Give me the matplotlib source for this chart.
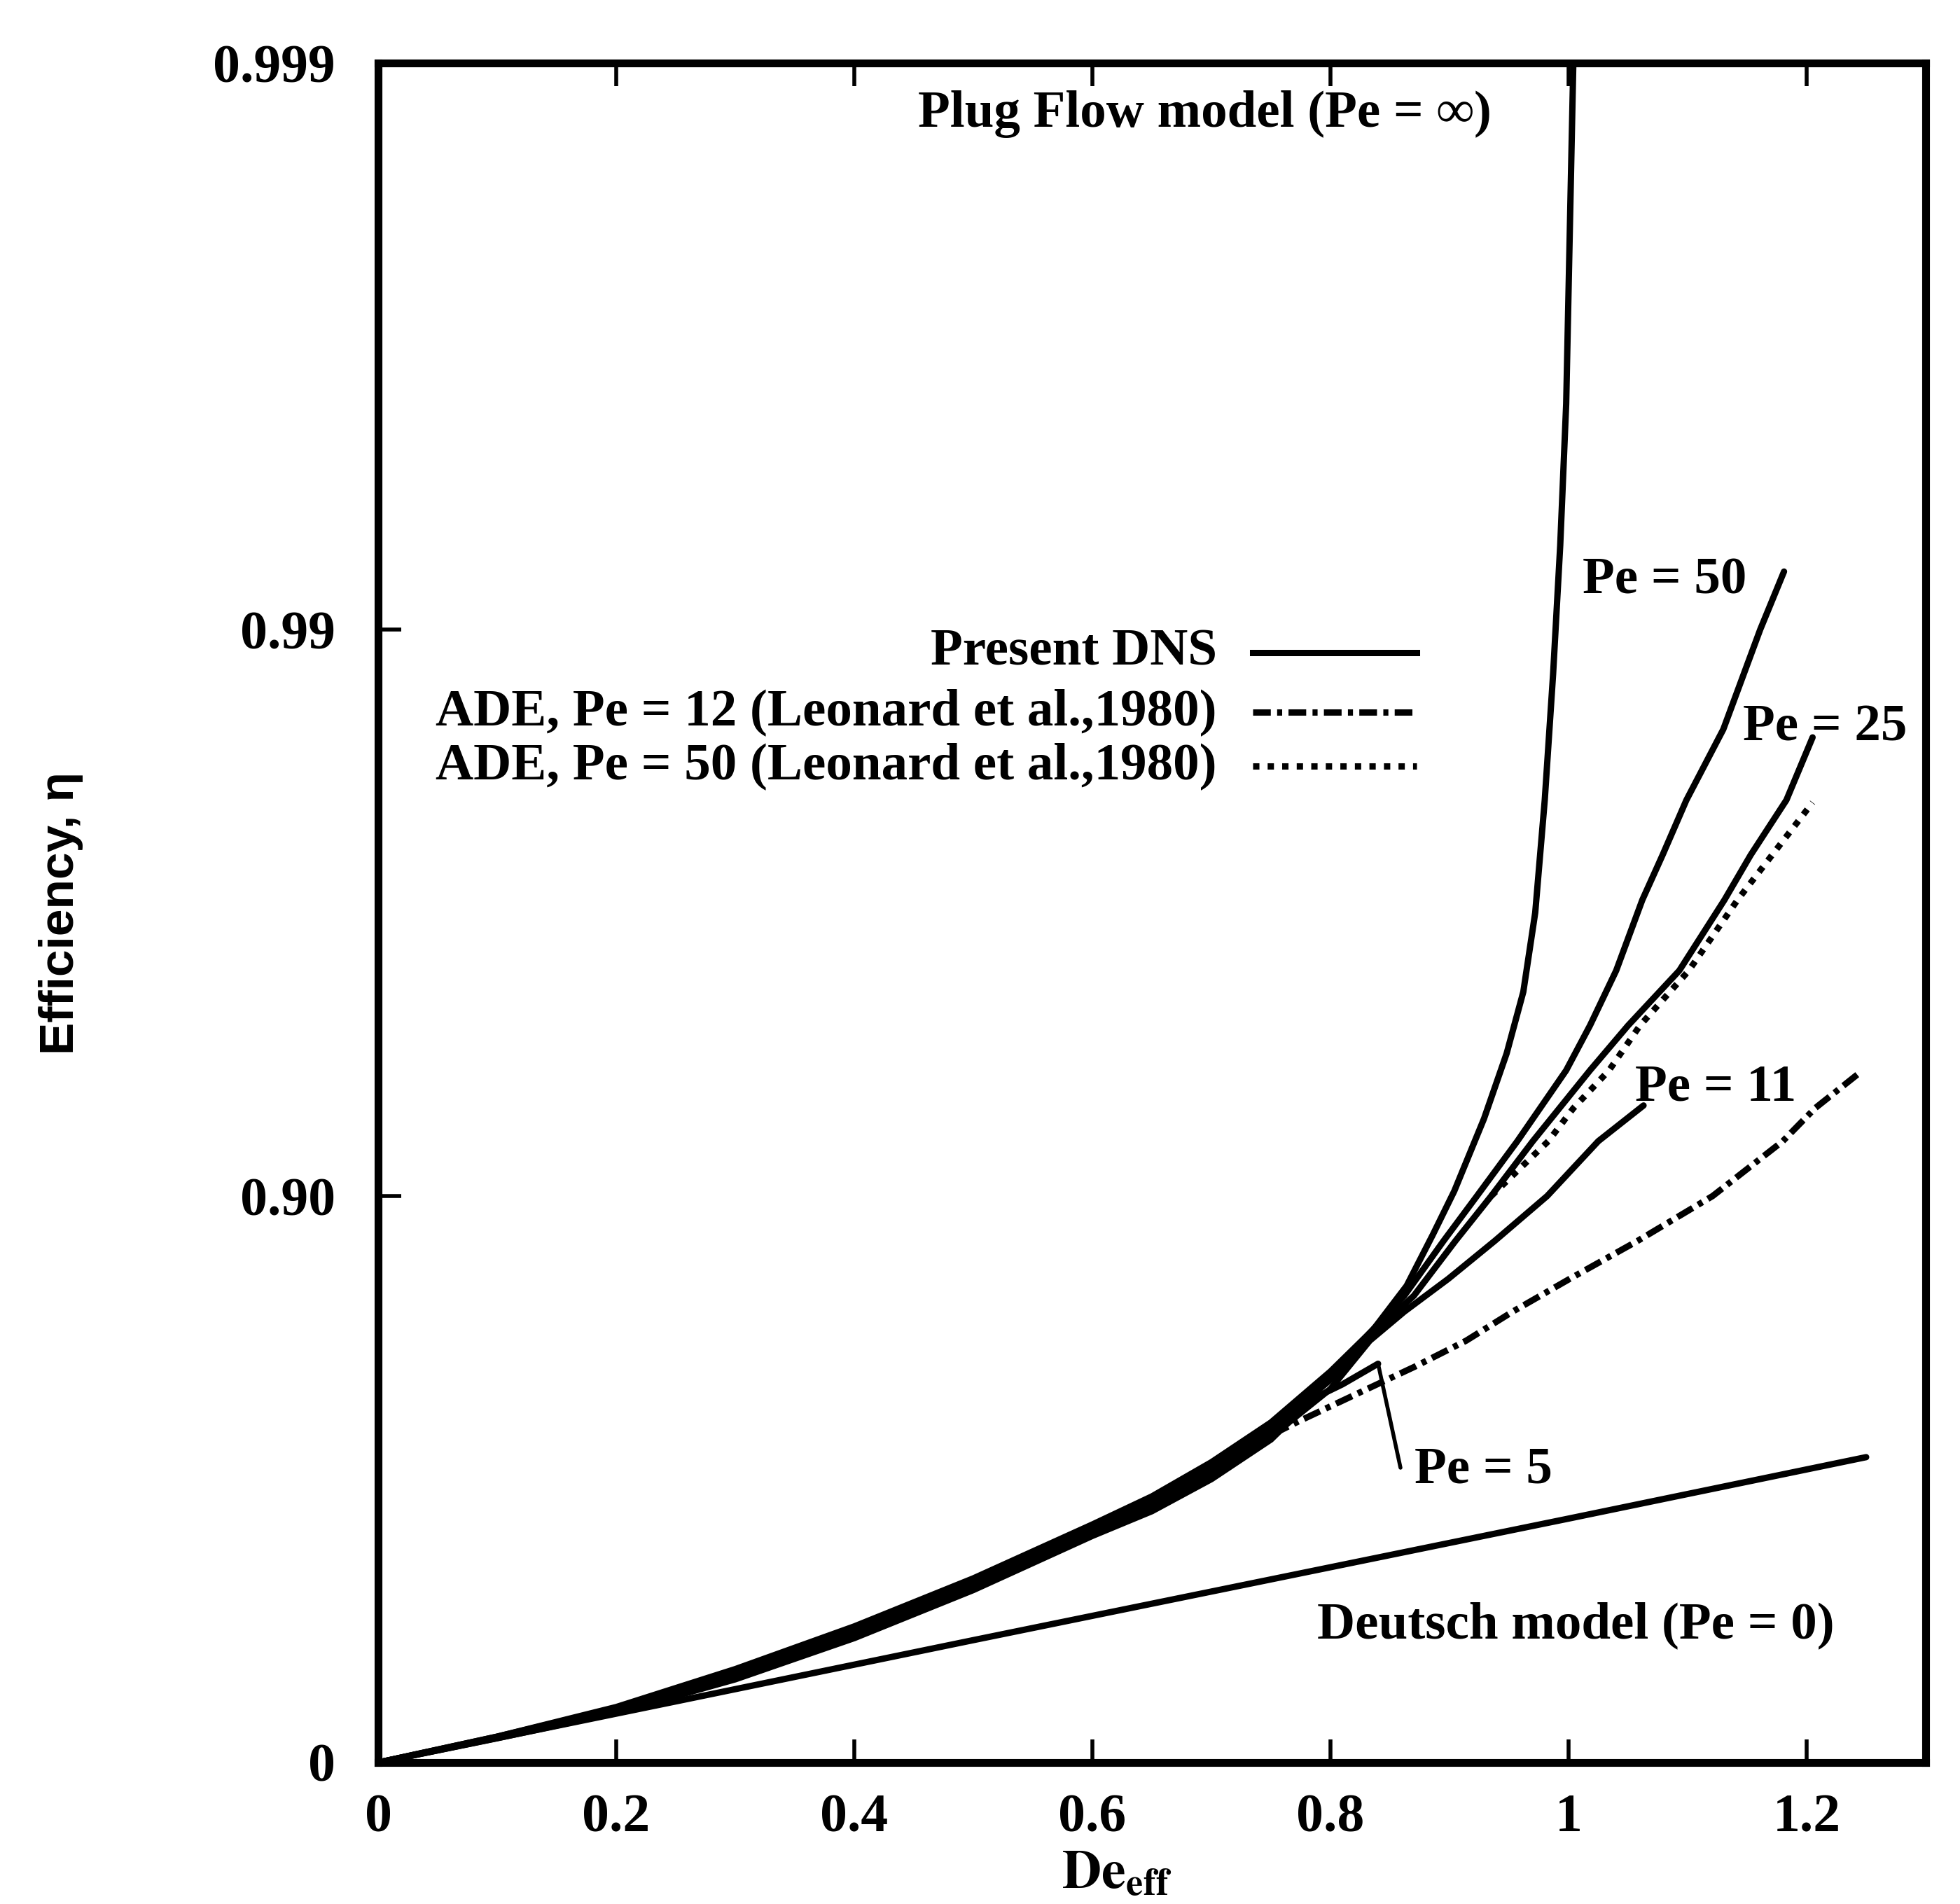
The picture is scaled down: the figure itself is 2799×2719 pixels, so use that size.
import numpy as np
import matplotlib
matplotlib.use("Agg")
import matplotlib.pyplot as plt
from matplotlib.lines import Line2D
from matplotlib.ticker import NullLocator

# ---------------- data ----------------
# Plug flow model (Pe = inf)
plug_de  = [0, 0.10, 0.20, 0.30, 0.40, 0.50, 0.60, 0.65, 0.70, 0.75, 0.80,
            0.836, 0.864, 0.886, 0.904, 0.929, 0.948, 0.962, 0.972, 0.980,
            0.987, 0.993, 0.998, 1.001, 1.004, 1.006]
plug_eta = [0, 0.10, 0.202, 0.316, 0.425, 0.527, 0.620, 0.661, 0.705, 0.749, 0.796,
            0.828, 0.856, 0.883, 0.902, 0.927, 0.944, 0.9564, 0.9684, 0.980,
            0.988, 0.9929, 0.996, 0.998, 0.999, 0.9995]

# Present DNS, Pe = 50
pe50_de  = [0, 0.10, 0.20, 0.30, 0.40, 0.50, 0.60, 0.65, 0.70, 0.75, 0.80,
            0.838, 0.862, 0.895, 0.923, 0.957, 0.998, 1.018, 1.040, 1.062, 1.079,
            1.099, 1.130, 1.161, 1.181]
pe50_eta = [0, 0.10, 0.198, 0.311, 0.419, 0.521, 0.615, 0.656, 0.701, 0.745, 0.793,
            0.83, 0.85, 0.88, 0.90, 0.92, 0.94, 0.95, 0.96, 0.97, 0.975,
            0.98, 0.985, 0.99, 0.9921]

# Present DNS, Pe = 25
pe25_de  = [0, 0.10, 0.20, 0.30, 0.40, 0.50, 0.60, 0.65, 0.70, 0.75, 0.80,
            0.842, 0.870, 0.905, 0.935, 0.970, 1.018, 1.050, 1.093, 1.131, 1.153,
            1.183, 1.205]
pe25_eta = [0, 0.098, 0.195, 0.305, 0.414, 0.517, 0.609, 0.650, 0.695, 0.741, 0.789,
            0.83, 0.85, 0.88, 0.90, 0.92, 0.94, 0.95, 0.96, 0.97, 0.975,
            0.98, 0.9845]

# Present DNS, Pe = 11
pe11_de  = [0, 0.10, 0.20, 0.30, 0.40, 0.50, 0.60, 0.65, 0.70, 0.75, 0.80,
            0.833, 0.862, 0.899, 0.938, 0.982, 1.025, 1.063]
pe11_eta = [0, 0.096, 0.189, 0.297, 0.407, 0.511, 0.605, 0.645, 0.690, 0.734, 0.781,
            0.82, 0.84, 0.86, 0.88, 0.90, 0.92, 0.9308]

# Present DNS, Pe = 5
pe5_de  = [0, 0.10, 0.20, 0.30, 0.40, 0.50, 0.60, 0.65, 0.70, 0.75, 0.785, 0.810, 0.840]
pe5_eta = [0, 0.094, 0.183, 0.287, 0.397, 0.504, 0.602, 0.640, 0.684, 0.731, 0.772, 0.785, 0.8023]

# ADE, Pe = 12 (Leonard et al., 1980)
ade12_de  = [0.700, 0.726, 0.773, 0.829, 0.871, 0.914, 0.953, 1.001, 1.058, 1.121, 1.180, 1.207, 1.244]
ade12_eta = [0.695, 0.72, 0.75, 0.78, 0.80, 0.82, 0.84, 0.86, 0.88, 0.90, 0.92, 0.93, 0.9393]

# ADE, Pe = 50 (Leonard et al., 1980)
ade50_de  = [0.935, 0.983, 1.004, 1.034, 1.060, 1.101, 1.142, 1.171, 1.205]
ade50_eta = [0.90, 0.92, 0.93, 0.94, 0.95, 0.96, 0.97, 0.975, 0.9798]

# Deutsch model (Pe = 0)
deutsch_de  = [0, 0.25, 0.50, 0.75, 1.00, 1.25]
deutsch_eta = [0, 0.220, 0.392, 0.525, 0.629, 0.711]

x_ticks = [0, 0.2, 0.4, 0.6, 0.8, 1.0, 1.2]
x_ticklabels = ["0", "0.2", "0.4", "0.6", "0.8", "1", "1.2"]
y_ticks = [0, 0.90, 0.99, 0.999]
y_ticklabels = ["0", "0.90", "0.99", "0.999"]

legend_labels = ["Present DNS",
                 "ADE, Pe = 12 (Leonard et al.,1980)",
                 "ADE, Pe = 50 (Leonard et al.,1980)"]

# ---------------- style ----------------
plt.rcParams["font.family"] = ["Liberation Serif", "DejaVu Serif"]
plt.rcParams["font.weight"] = "bold"
plt.rcParams["mathtext.fontset"] = "stix"

W, H = 2799, 2719
fig = plt.figure(figsize=(W / 100, H / 100), dpi=100)

L, R, T, B = 540, 2750, 90, 2517
ax = fig.add_axes([L / W, 1 - B / H, (R - L) / W, (B - T) / H])


def fwd(eta):
    eta = np.asarray(eta, dtype=float)
    return -np.log10(np.clip(1.0 - eta, 1e-9, None))


def inv(y):
    y = np.asarray(y, dtype=float)
    return 1.0 - 10.0 ** (-y)


ax.set_yscale("function", functions=(fwd, inv))
ax.set_xlim(0, 1.3)
ax.set_ylim(0, 0.999)

LW = 6.5
solid_kw = dict(color="black", lw=LW, solid_capstyle="round", solid_joinstyle="round")
dot_ls = (0, (1.0, 1.3))
dashdot_ls = (0, (2.8, 1.0, 0.8, 1.0))

ax.plot(plug_de, plug_eta, **solid_kw)
ax.plot(pe50_de, pe50_eta, **solid_kw)
ax.plot(pe25_de, pe25_eta, **solid_kw)
ax.plot(pe11_de, pe11_eta, **solid_kw)
ax.plot(pe5_de, pe5_eta, **solid_kw)
ax.plot(deutsch_de, deutsch_eta, **solid_kw)
ax.plot(ade12_de, ade12_eta, color="black", lw=LW, linestyle=dashdot_ls)
ax.plot(ade50_de, ade50_eta, color="black", lw=LW, linestyle=dot_ls,
        dash_capstyle="butt")

# leader line for Pe = 5
ax.annotate("", xy=(pe5_de[-1], pe5_eta[-1]), xycoords="data",
            xytext=(2000 / W, 1 - 2096 / H), textcoords="figure fraction",
            arrowprops=dict(arrowstyle="-", lw=4.0, color="black",
                            shrinkA=0, shrinkB=0))

# ticks & spines
ax.set_xticks(x_ticks)
ax.set_xticklabels(x_ticklabels)
ax.set_yticks(y_ticks)
ax.set_yticklabels(y_ticklabels)
ax.yaxis.set_minor_locator(NullLocator())
ax.xaxis.set_minor_locator(NullLocator())
ax.tick_params(axis="both", direction="in", length=24, width=4, labelsize=56,
               top=True, right=False)
ax.tick_params(axis="y", pad=44)
ax.tick_params(axis="x", pad=32)
for lab in ax.get_xticklabels() + ax.get_yticklabels():
    lab.set_fontweight("bold")
for sp in ax.spines.values():
    sp.set_linewidth(8)

# text labels inside the plot
txt_kw = dict(fontsize=54, fontweight="bold", va="center")
fig.text(1720 / W, 1 - 163 / H, "Plug Flow model (Pe = \u221e)", ha="center", **txt_kw)
fig.text(2377 / W, 1 - 829 / H, "Pe = 50", ha="center", **txt_kw)
fig.text(2606 / W, 1 - 1039 / H, "Pe = 25", ha="center", **txt_kw)
fig.text(2450 / W, 1 - 1554 / H, "Pe = 11", ha="center", **txt_kw)
fig.text(2118 / W, 1 - 2100 / H, "Pe = 5", ha="center", **txt_kw)
fig.text(2250 / W, 1 - 2321 / H, "Deutsch model (Pe = 0)", ha="center", **txt_kw)

# legend drawn manually
leg_y = [932, 1017, 1094]
leg_styles = [dict(linestyle="-"), dict(linestyle=dashdot_ls), dict(linestyle=dot_ls)]
for lab, yy, st in zip(legend_labels, leg_y, leg_styles):
    fy = 1 - yy / H
    fig.text(1738 / W, fy, lab, ha="right", **txt_kw)
    fig.add_artist(Line2D([1789 / W, 2023 / W], [fy, fy], transform=fig.transFigure,
                          color="black", lw=LW, **st))

# axis titles
fig.text(87 / W, 1 - 1304 / H, "Efficiency, \u03b7", rotation=90, ha="center", va="center",
         fontsize=50, fontweight="bold", family=["Liberation Sans", "DejaVu Sans"])
fig.text(1516 / W, 1 - 2697 / H, r"$\mathbf{De}_{\mathbf{eff}}$", ha="left", va="baseline",
         fontsize=56)

fig.savefig("out.png", dpi=100)
